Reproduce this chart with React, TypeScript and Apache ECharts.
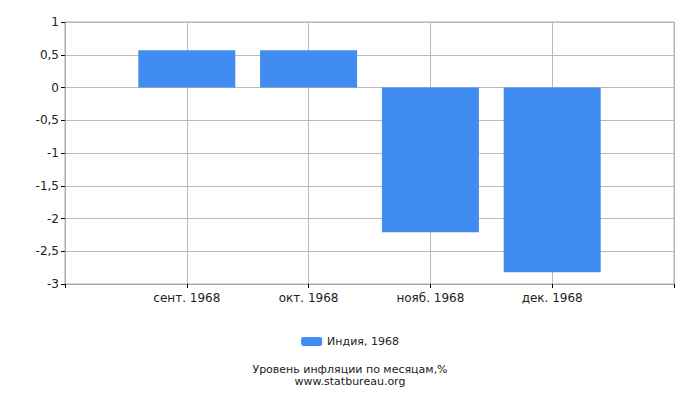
import { useEffect, useRef } from 'react'
import * as echarts from 'echarts'

// ── Data ─────────────────────────────────────────────────────────────────────
// x positions 1..4 on a 0..5 value axis, matching the original slot layout
const MONTHS = ['сент. 1968', 'окт. 1968', 'нояб. 1968', 'дек. 1968']
const VALUES = [0.57, 0.57, -2.21, -2.82]
const SERIES_NAME = 'Индия, 1968'
const TITLE_LINES = ['Уровень инфляции по месяцам,%', 'www.statbureau.org']

const FONT = '"DejaVu Sans", sans-serif'

export default function App() {
  const chartRef = useRef<HTMLDivElement>(null)

  useEffect(() => {
    document.body.style.margin = '0'
    if (!chartRef.current) return
    const chart = echarts.init(chartRef.current, undefined, { renderer: 'svg' })

    const option: echarts.EChartsOption = {
      animation: false,
      backgroundColor: '#fff',
      textStyle: { fontFamily: FONT },
      grid: { left: 65, right: 26, top: 22, bottom: 116, show: true, borderColor: '#aaa', borderWidth: 1 },

      // two stacked one-line titles (avoids overlapping line boxes)
      title: TITLE_LINES.map((t, i) => ({
        text: t,
        left: 'center',
        top: 363 + i * 12,
        padding: 0,
        textStyle: { fontSize: 11, fontWeight: 'normal', color: '#222', lineHeight: 12, fontFamily: FONT },
      })),

      legend: {
        data: [SERIES_NAME],
        left: 'center',
        top: 331,
        itemWidth: 21,
        itemHeight: 9,
        itemGap: 5,
        textStyle: { fontSize: 11, color: '#222', fontFamily: FONT },
      },

      xAxis: {
        type: 'value',
        min: 0,
        max: 5,
        interval: 1,
        axisLabel: {
          formatter: (v: number) => MONTHS[Math.round(v) - 1] ?? '',
          fontSize: 12,
          color: '#222',
          margin: 8,
          showMinLabel: true,
          showMaxLabel: true,
        },
        axisLine: { show: true, onZero: false, lineStyle: { color: '#aaa' } },
        axisTick: { show: true, length: 4, lineStyle: { color: '#000' } },
        splitLine: { show: true, lineStyle: { color: '#bbb' } },
      },

      yAxis: {
        type: 'value',
        min: -3,
        max: 1,
        interval: 0.5,
        axisLabel: {
          formatter: (v: number) => String(v).replace('.', ','),
          fontSize: 12,
          color: '#222',
          margin: 6,
        },
        axisLine: { show: true, lineStyle: { color: '#aaa' } },
        axisTick: { show: true, length: 4, lineStyle: { color: '#000' } },
        splitLine: { show: true, lineStyle: { color: '#bbb' } },
      },

      series: [
        {
          type: 'bar',
          name: SERIES_NAME,
          barWidth: 97,
          itemStyle: { color: '#418cf0' },
          data: VALUES.map((v, i) => [i + 1, v]),
        },
      ],
    }

    chart.setOption(option)
    return () => chart.dispose()
  }, [])

  return <div ref={chartRef} style={{ width: 700, height: 400 }} />
}
